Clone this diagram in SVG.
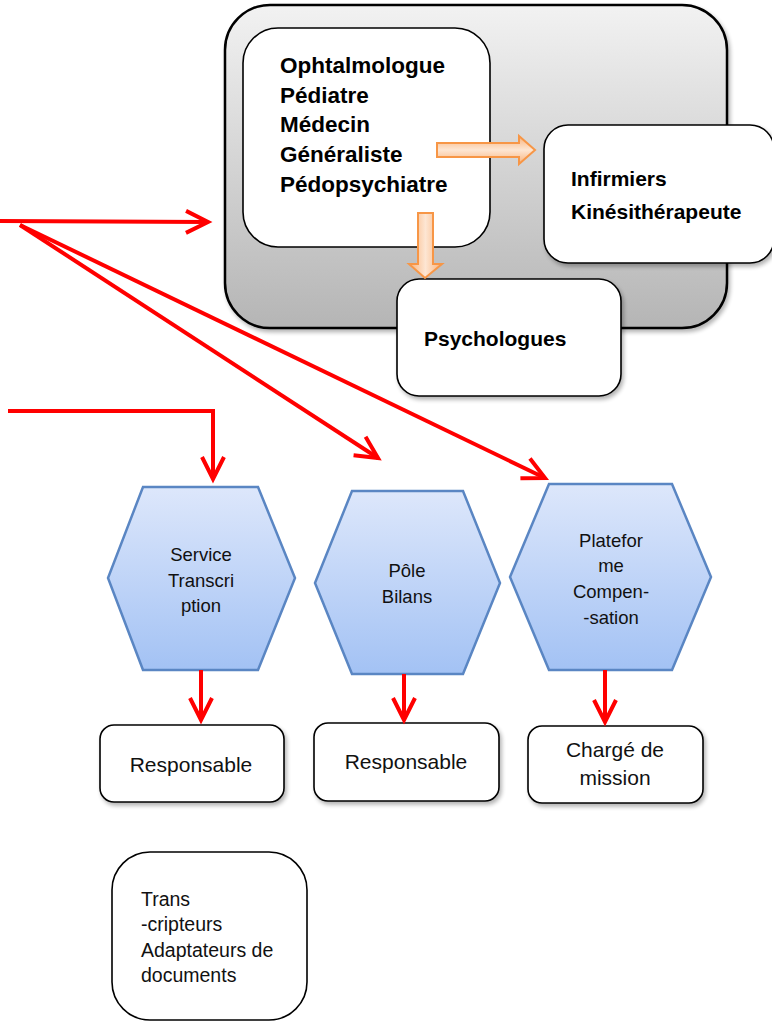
<svg xmlns="http://www.w3.org/2000/svg" width="772" height="1021" viewBox="0 0 772 1021">
<defs>
<linearGradient id="gray" x1="0" y1="0" x2="0" y2="1">
<stop offset="0" stop-color="#f2f2f2"/><stop offset="1" stop-color="#b5b5b5"/>
</linearGradient>
<linearGradient id="blue" x1="0" y1="0" x2="0" y2="1">
<stop offset="0" stop-color="#dde7fb"/><stop offset="1" stop-color="#a3c2f4"/>
</linearGradient>
<linearGradient id="orH" x1="0" y1="0" x2="0" y2="1">
<stop offset="0" stop-color="#f9b27a"/><stop offset="0.5" stop-color="#fde6d3"/><stop offset="1" stop-color="#f9b27a"/>
</linearGradient>
<linearGradient id="orV" x1="0" y1="0" x2="1" y2="0">
<stop offset="0" stop-color="#f9b27a"/><stop offset="0.5" stop-color="#fde6d3"/><stop offset="1" stop-color="#f9b27a"/>
</linearGradient>
<filter id="sh" x="-10%" y="-10%" width="125%" height="125%">
<feGaussianBlur in="SourceAlpha" stdDeviation="2"/>
<feOffset dx="2" dy="3"/>
<feComponentTransfer><feFuncA type="linear" slope="0.3"/></feComponentTransfer>
<feMerge><feMergeNode/><feMergeNode in="SourceGraphic"/></feMerge>
</filter>
<marker id="chev" markerUnits="userSpaceOnUse" viewBox="-26 -15 30 30" refX="0" refY="0" markerWidth="30" markerHeight="30" orient="auto" overflow="visible">
<path d="M-22,-11 L0,0 L-22,11" fill="none" stroke="#ff0000" stroke-width="4" stroke-linejoin="miter"/>
</marker>
<style>
.box{fill:#ffffff;stroke:#000;stroke-width:1.6}
.hex{fill:url(#blue);stroke:#5a86c3;stroke-width:2.5}
.red{fill:none;stroke:#ff0000;stroke-width:4;marker-end:url(#chev)}
.b{font-family:"Liberation Sans",Arial,sans-serif;font-weight:bold;fill:#000}
.t{font-family:"Liberation Sans",Arial,sans-serif;fill:#111}
.orange{stroke:#f79646;stroke-width:2}
</style>
</defs>

<g id="groupe-medical">
<rect x="225" y="5" width="502" height="323" rx="45" fill="url(#gray)" stroke="#000" stroke-width="2.5" filter="url(#sh)"/>
</g>
<g id="medecins">
<rect class="box" x="243" y="28" width="247" height="219" rx="35" stroke-width="2"/>
<text class="b" font-size="22.5" x="280"><tspan x="280" y="73">Ophtalmologue</tspan><tspan x="280" y="103">Pédiatre</tspan><tspan x="280" y="132">Médecin</tspan><tspan x="280" y="162">Généraliste</tspan><tspan x="280" y="192">Pédopsychiatre</tspan></text>
</g>
<g id="infirmiers">
<rect class="box" x="544" y="125" width="230" height="138" rx="24" filter="url(#sh)"/>
<text class="b" font-size="21" x="571"><tspan x="571" y="186">Infirmiers</tspan><tspan x="571" y="219">Kinésithérapeute</tspan></text>
</g>
<g id="psychologues">
<rect class="box" x="397" y="279" width="224" height="117" rx="22" filter="url(#sh)"/>
<text class="b" font-size="21" x="424" y="346">Psychologues</text>
</g>

<g id="fleches-orange">
<path class="orange" fill="url(#orH)" d="M437,143 L519,143 L519,136 L535,150 L519,164 L519,157 L437,157 Z"/>
<path class="orange" fill="url(#orV)" d="M418,213 L433,213 L433,264 L442,264 L425,278 L409,264 L418,264 Z"/>
</g>

<g id="service-transcription">
<path class="hex" d="M143,487 L258,487 L295,578 L258,670 L143,670 L108,578 Z"/>
<text class="t" font-size="18.5" text-anchor="middle"><tspan x="201" y="561">Service</tspan><tspan x="201" y="587">Transcri</tspan><tspan x="201" y="612">ption</tspan></text>
</g>
<g id="pole-bilans">
<path class="hex" d="M352,491 L463,491 L500,583 L463,674 L352,674 L315,583 Z"/>
<text class="t" font-size="18.5" text-anchor="middle"><tspan x="407" y="577">Pôle</tspan><tspan x="407" y="603">Bilans</tspan></text>
</g>
<g id="plateforme-compensation">
<path class="hex" d="M549,484 L672,484 L711,577 L672,670 L549,670 L510,577 Z"/>
<text class="t" font-size="18.5" text-anchor="middle"><tspan x="611" y="547">Platefor</tspan><tspan x="611" y="572">me</tspan><tspan x="611" y="598">Compen-</tspan><tspan x="611" y="624">-sation</tspan></text>
</g>

<g id="responsable-1">
<rect class="box" x="100" y="725" width="184" height="77" rx="14" filter="url(#sh)"/>
<text class="t" font-size="21" text-anchor="middle" x="191" y="772">Responsable</text>
</g>
<g id="responsable-2">
<rect class="box" x="314" y="723" width="185" height="78" rx="14" filter="url(#sh)"/>
<text class="t" font-size="21" text-anchor="middle" x="406" y="769">Responsable</text>
</g>
<g id="charge-de-mission">
<rect class="box" x="528" y="726" width="175" height="77" rx="14" filter="url(#sh)"/>
<text class="t" font-size="21" text-anchor="middle"><tspan x="615" y="757">Chargé de</tspan><tspan x="615" y="785">mission</tspan></text>
</g>
<g id="transcripteurs">
<rect class="box" x="112" y="852" width="195" height="168" rx="38"/>
<text class="t" font-size="19.5"><tspan x="141" y="906">Trans</tspan><tspan x="141" y="931">-cripteurs</tspan><tspan x="141" y="957">Adaptateurs de</tspan><tspan x="141" y="982">documents</tspan></text>
</g>

<g id="connecteurs">
<path class="red" d="M0,221 L208,222"/>
<path class="red" d="M20,225 L378,458"/>
<path class="red" d="M20,225 L545,478"/>
<path class="red" d="M8,411 L213,411 L213,479"/>
<path class="red" d="M201,670 L201,720"/>
<path class="red" d="M404,674 L404,720"/>
<path class="red" d="M605,670 L605,722"/>
</g>
</svg>
